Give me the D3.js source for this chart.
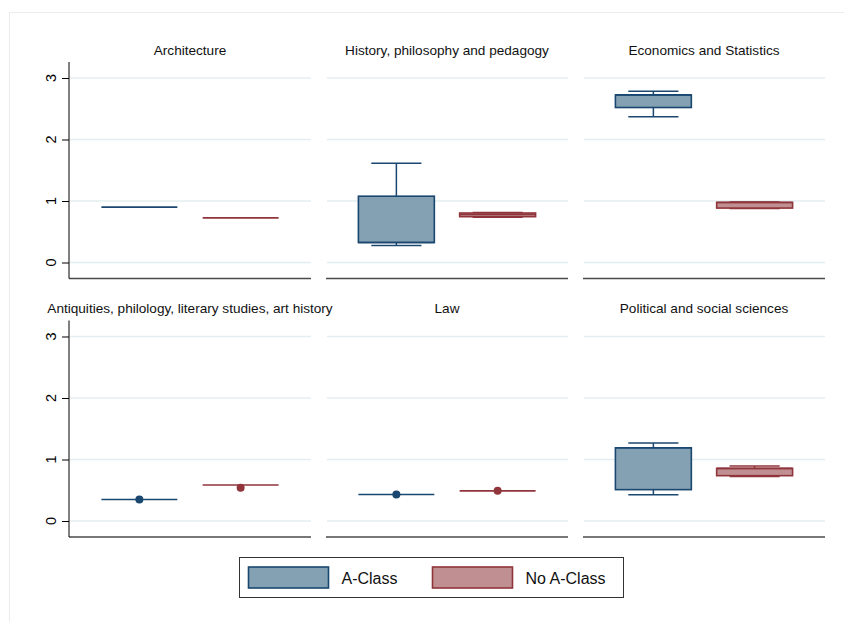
<!DOCTYPE html>
<html>
<head>
<meta charset="utf-8">
<script src="https://cdn.jsdelivr.net/npm/d3@7"></script>
<style>
  html, body { margin: 0; padding: 0; background: #fff; }
  svg { display: block; font-family: "Liberation Sans", Arial, sans-serif; }
</style>
</head>
<body>
<svg id="chart" width="844" height="622"></svg>
<script>
// Panels (one per field) and the two groups compared within each
const fields = [
  "Architecture",
  "History, philosophy and pedagogy",
  "Economics and Statistics",
  "Antiquities, philology, literary studies, art history",
  "Law",
  "Political and social sciences"
];
const groups = ["A-Class", "No A-Class"];
const yTicks = [0, 1, 2, 3];

// Box statistics per field, [A-Class, No A-Class]
const whiskerLow  = [[0.90, 0.725], [0.276, 0.735], [2.37, 0.88],  [0.35, 0.585], [0.43, 0.49], [0.428, 0.725]];
const quartile1   = [[0.90, 0.725], [0.325, 0.745], [2.52, 0.885], [0.35, 0.585], [0.43, 0.49], [0.51, 0.737]];
const medians     = [[0.90, 0.725], [0.325, 0.78],  [2.725, 0.975],[0.35, 0.585], [0.43, 0.49], [1.19, 0.855]];
const quartile3   = [[0.90, 0.725], [1.078, 0.805], [2.725, 0.978],[0.35, 0.585], [0.43, 0.49], [1.19, 0.855]];
const whiskerHigh = [[0.90, 0.725], [1.615, 0.815], [2.785, 0.985],[0.35, 0.585], [0.43, 0.49], [1.268, 0.894]];
// Outside values drawn as dots (field index, group index, value)
const outsideValues = [[3, 0, 0.35], [3, 1, 0.54], [4, 0, 0.43], [4, 1, 0.49]];

const strokeColors = ["#1a476f", "#90353b"];
const fillColors = ["#84a0b3", "#c08f92"];

const svg = d3.select("#chart");

// faint outer frame of the graph region
svg.append("rect")
  .attr("x", 9.5).attr("y", 12.5)
  .attr("width", 840).attr("height", 620)
  .attr("fill", "none").attr("stroke", "#ececec");

const colX = [69, 326, 583];
const panelW = 242;
const rowTop = [62, 320.5];
const panelH = 216.5;

const x = d3.scaleBand().domain(groups).range([0, panelW])
  .paddingInner(0.25).paddingOuter(0.32);
const capW = x.bandwidth() * 0.66;

fields.forEach((field, i) => {
  const col = i % 3, row = Math.floor(i / 3);
  const g = svg.append("g")
    .attr("transform", `translate(${colX[col]},${rowTop[row]})`);
  const y = d3.scaleLinear().domain([-0.26, 3.26]).range([panelH, 0]);

  // grid lines
  g.selectAll("line.grid").data(yTicks).join("line")
    .attr("class", "grid")
    .attr("x1", 1).attr("x2", panelW)
    .attr("y1", d => y(d)).attr("y2", d => y(d))
    .attr("stroke", "#e3eef0").attr("stroke-width", 1.5);

  // bottom axis line
  g.append("line")
    .attr("x1", 0).attr("x2", panelW)
    .attr("y1", panelH).attr("y2", panelH)
    .attr("stroke", "#4a4a4a").attr("stroke-width", 1.4);

  // y axis on the first column only; labels are set upright-rotated below
  if (col === 0) {
    const ax = g.append("g").call(
      d3.axisLeft(y).tickValues(yTicks).tickSize(7).tickFormat(() => "")
    );
    ax.select(".domain").attr("stroke", "#000").attr("d", `M0,0V${panelH}`);
    ax.selectAll(".tick line").attr("stroke", "#000");
    g.selectAll("text.ylab").data(yTicks).join("text")
      .attr("class", "ylab")
      .attr("transform", d => `translate(-18,${y(d)}) rotate(-90)`)
      .attr("text-anchor", "middle")
      .attr("dominant-baseline", "central")
      .style("font-size", "14.5px")
      .attr("fill", "#000")
      .text(d => d);
  }

  // panel title
  svg.append("text")
    .attr("x", colX[col] + panelW / 2)
    .attr("y", row === 0 ? 55 : 312.5)
    .attr("text-anchor", "middle")
    .style("font-size", "13.6px")
    .attr("fill", "#111")
    .text(field);

  groups.forEach((grp, k) => {
    const cx = x(grp) + x.bandwidth() / 2;
    const lo = whiskerLow[i][k], q1 = quartile1[i][k], md = medians[i][k],
          q3 = quartile3[i][k], hi = whiskerHigh[i][k];
    const b = g.append("g");
    const stroke = strokeColors[k];
    // whiskers
    if (hi > q3) {
      b.append("line").attr("x1", cx).attr("x2", cx).attr("y1", y(q3)).attr("y2", y(hi))
        .attr("stroke", stroke).attr("stroke-width", 1.5);
      b.append("line").attr("x1", cx - capW / 2).attr("x2", cx + capW / 2)
        .attr("y1", y(hi)).attr("y2", y(hi)).attr("stroke", stroke).attr("stroke-width", 1.5);
    }
    if (lo < q1) {
      b.append("line").attr("x1", cx).attr("x2", cx).attr("y1", y(q1)).attr("y2", y(lo))
        .attr("stroke", stroke).attr("stroke-width", 1.5);
      b.append("line").attr("x1", cx - capW / 2).attr("x2", cx + capW / 2)
        .attr("y1", y(lo)).attr("y2", y(lo)).attr("stroke", stroke).attr("stroke-width", 1.5);
    }
    // box
    b.append("rect")
      .attr("x", x(grp)).attr("width", x.bandwidth())
      .attr("y", y(q3)).attr("height", Math.max(0, y(q1) - y(q3)))
      .attr("fill", fillColors[k]).attr("stroke", stroke).attr("stroke-width", 1.6);
    // median
    b.append("line").attr("x1", x(grp)).attr("x2", x(grp) + x.bandwidth())
      .attr("y1", y(md)).attr("y2", y(md)).attr("stroke", stroke).attr("stroke-width", 1.6);
  });

  // outside values
  g.selectAll("circle").data(outsideValues.filter(d => d[0] === i)).join("circle")
    .attr("cx", d => x(groups[d[1]]) + x.bandwidth() / 2)
    .attr("cy", d => y(d[2]))
    .attr("r", 4)
    .attr("fill", d => strokeColors[d[1]]);
});

// legend
const lg = svg.append("g");
lg.append("rect").attr("x", 239.5).attr("y", 557.5).attr("width", 384).attr("height", 40)
  .attr("fill", "#fff").attr("stroke", "#333").attr("stroke-width", 1);
const legendX = [248.5, 432.5];
groups.forEach((grp, k) => {
  lg.append("rect").attr("x", legendX[k]).attr("y", 567).attr("width", 80).attr("height", 21)
    .attr("fill", fillColors[k]).attr("stroke", strokeColors[k]).attr("stroke-width", 1.6);
  lg.append("text").attr("x", legendX[k] + 93).attr("y", 583.5)
    .style("font-size", "16px").attr("fill", "#111").text(grp);
});
</script>
</body>
</html>
